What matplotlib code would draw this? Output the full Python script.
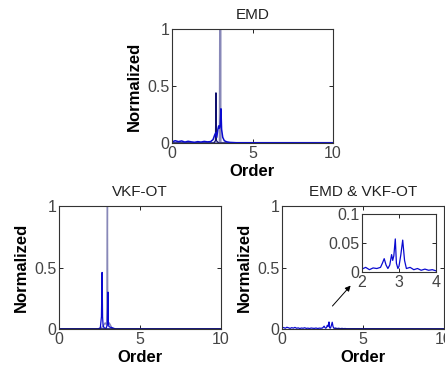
import matplotlib.pyplot as plt
import numpy as np

plt.rcParams['font.family'] = ['Liberation Sans', 'DejaVu Sans']

# EMD spectrum (top)
emd_x = [0, 0.2, 0.4, 0.6, 0.8, 1.0, 1.2, 1.4, 1.6, 1.8, 2.0, 2.2, 2.4, 2.55, 2.65, 2.72, 2.78,
         2.85, 2.9, 2.95, 3.0, 3.04, 3.08, 3.15, 3.25, 3.4, 3.6, 4.0, 6.0, 10.0]
emd_y = [0.01, 0.02, 0.012, 0.018, 0.008, 0.015, 0.01, 0.006, 0.012, 0.008, 0.014, 0.01, 0.012, 0.03,
         0.07, 0.09, 0.05, 0.12, 0.15, 0.13, 0.16, 0.3, 0.12, 0.05, 0.02, 0.01, 0.005, 0.002, 0.001, 0.0]
emd_x2 = [0, 2.6, 2.7, 2.73, 2.76, 2.9, 10]
emd_y2 = [0, 0.0, 0.02, 0.44, 0.02, 0.0, 0]
emd_x3 = [0, 2.97, 2.99, 3.01, 10]
emd_y3 = [0, 0, 1.0, 0, 0]

# VKF-OT spectrum (bottom left)
vkf_x = [0, 2.4, 2.55, 2.62, 2.66, 2.69, 2.72, 2.78, 2.9, 2.98, 3.02, 3.05, 3.08, 3.15, 3.3, 3.5, 10]
vkf_y = [0, 0.0, 0.01, 0.1, 0.46, 0.1, 0.03, 0.01, 0.005, 0.03, 0.3, 0.05, 0.02, 0.015, 0.01, 0.0, 0]
vkf_x2 = [0, 2.5, 2.7, 2.85, 2.95, 2.99, 3.01, 3.1, 3.3, 10]
vkf_y2 = [0, 0.0, 0.02, 0.05, 0.03, 1.0, 0.05, 0.05, 0.0, 0]

# EMD & VKF-OT residual (bottom right)
res_x = [0, 0.1, 0.2, 0.3, 0.4, 0.5, 0.6, 0.7, 0.8, 0.9, 1.0, 1.1, 1.2, 1.3, 1.4, 1.5, 1.6, 1.7, 1.8,
         1.9, 2.0, 2.1, 2.2, 2.3, 2.4, 2.5, 2.55, 2.6, 2.65, 2.7, 2.75, 2.8, 2.83, 2.86, 2.9, 2.93,
         2.97, 3.0, 3.05, 3.1, 3.15, 3.2, 3.3, 3.4, 3.5, 3.6, 3.7, 3.8, 3.9, 4.0, 10.0]
res_y = [0.008, 0.012, 0.006, 0.014, 0.01, 0.005, 0.011, 0.007, 0.013, 0.006, 0.009, 0.004, 0.008,
         0.006, 0.01, 0.005, 0.007, 0.004, 0.008, 0.006, 0.005, 0.008, 0.004, 0.007, 0.006, 0.008,
         0.015, 0.023, 0.012, 0.006, 0.012, 0.03, 0.02, 0.028, 0.057, 0.015, 0.006, 0.01, 0.03,
         0.055, 0.02, 0.006, 0.008, 0.004, 0.006, 0.003, 0.005, 0.003, 0.004, 0.002, 0.0]

navy = '#10106e'
blue = '#0a0ad0'
grey = '#8888b8'
txt = '#444444'

fig = plt.figure(figsize=(4.45, 3.72), dpi=100)
W, H = 445, 372

def make_ax(l, t, r, b):
    return fig.add_axes([l / W, 1 - b / H, (r - l) / W, (b - t) / H])

def style(ax, xt, yt, xl, yl, fs=11.5):
    ax.set_xlim(xl)
    ax.set_ylim(yl)
    ax.set_xticks(xt)
    ax.set_yticks(yt)
    ax.tick_params(direction='in', top=True, right=True, length=3, labelsize=fs,
                   labelcolor=txt, pad=2, width=0.6)
    for s in ax.spines.values():
        s.set_color('#333333')
        s.set_linewidth(0.8)

def labels(ax, title):
    ax.set_yticklabels(['0', '0.5', '1'])
    ax.set_title(title, fontsize=11, pad=7.5, color='#222222')
    ax.set_xlabel('Order', fontsize=12, fontweight='bold', labelpad=2)
    ax.set_ylabel('Normalized', fontsize=12, fontweight='bold', labelpad=4)

ax1 = make_ax(172, 29, 333, 143)
ax1.plot(emd_x3, emd_y3, color=grey, lw=1.6)
ax1.plot(emd_x2, emd_y2, color=navy, lw=0.9)
ax1.plot(emd_x, emd_y, color=blue, lw=1.1)
style(ax1, [0, 5, 10], [0, 0.5, 1], (0, 10), (0, 1))
labels(ax1, 'EMD')

ax2 = make_ax(59, 206, 221, 329)
ax2.plot(vkf_x2, vkf_y2, color=grey, lw=1.0)
ax2.plot(vkf_x, vkf_y, color=blue, lw=0.9)
ax2.plot([0, 10], [0, 0], color=navy, lw=1.2)
style(ax2, [0, 5, 10], [0, 0.5, 1], (0, 10), (0, 1))
labels(ax2, 'VKF-OT')

ax3 = make_ax(282, 206, 444, 329)
ax3.plot(res_x, res_y, color=blue, lw=0.9)
ax3.plot([3.3, 10], [0, 0], color=navy, lw=1.2)
style(ax3, [0, 5, 10], [0, 0.5, 1], (0, 10), (0, 1))
labels(ax3, 'EMD & VKF-OT')
ax3.annotate('', xy=(4.35, 0.37), xytext=(3.0, 0.17),
             arrowprops=dict(arrowstyle='-|>', color='black', lw=0.7, mutation_scale=8))

ax4 = make_ax(362, 214, 436, 272)
ax4.plot(res_x, res_y, color=blue, lw=0.9)
style(ax4, [2, 3, 4], [0, 0.05, 0.1], (2, 4), (0, 0.1))
ax4.set_yticklabels(['0', '0.05', '0.1'])

fig.savefig('out.png', dpi=100)
